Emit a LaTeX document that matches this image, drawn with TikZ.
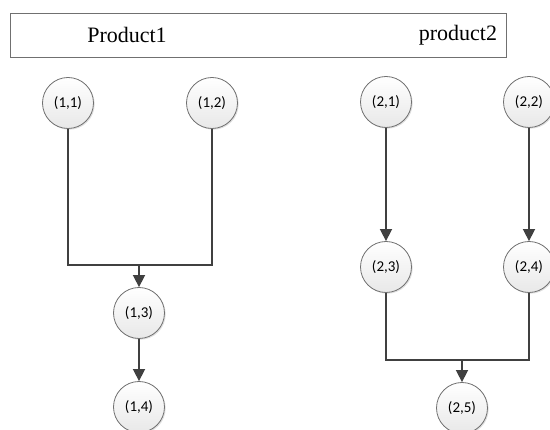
\documentclass[tikz,border=0pt]{standalone}
\usepackage{fontspec}
\setmainfont{Liberation Serif}
\newfontfamily\labelfont{Carlito}
\usetikzlibrary{arrows.meta,shadows}
\definecolor{linegray}{HTML}{404040}
\definecolor{ringgray}{HTML}{707070}

\begin{document}
\begin{tikzpicture}[x=1pt,y=-1pt,
    state/.style={circle,draw=ringgray,line width=0.8pt,top color=white,bottom color=gray!18,
                  minimum size=51pt,inner sep=0pt,font=\labelfont\fontsize{15}{15}\selectfont,
                  drop shadow={shadow xshift=1.2pt,shadow yshift=-1.2pt,opacity=0.25}},
    link/.style={draw=linegray,line width=1.6pt},
    flow/.style={link,-{Triangle[width=12pt,length=12pt]}},
    headtext/.style={font=\fontsize{22}{22}\selectfont}]
  \useasboundingbox (0,0) rectangle (550,430);

  \node[draw=ringgray,line width=0.8pt,minimum width=496pt,minimum height=44pt,inner sep=0pt] (hdr) at (258,35) {};
  \node[headtext] (p1) at (127,35) {Product1};
  \node[headtext] (p2) at (458,35) {product2};

  \node[state] (n11) at ( 68,103) {(1,1)};
  \node[state] (n12) at (212,103) {(1,2)};
  \node[state] (n13) at (139,313) {(1,3)};
  \node[state] (n14) at (139,407) {(1,4)};
  \node[state] (n21) at (386,102) {(2,1)};
  \node[state] (n22) at (529,102) {(2,2)};
  \node[state] (n23) at (386,267) {(2,3)};
  \node[state] (n24) at (529,267) {(2,4)};
  \node[state] (n25) at (462,408) {(2,5)};

  \coordinate (j1) at (139,265);
  \coordinate (j2) at (462,360);

  \path[link] (n11) |- (j1);
  \path[link] (n12) |- (j1);
  \path[flow] (j1) -- (n13);
  \path[flow] (n13) -- (n14);

  \path[flow] (n21) -- (n23);
  \path[flow] (n22) -- (n24);
  \path[link] (n23) |- (j2);
  \path[link] (n24) |- (j2);
  \path[flow] (j2) -- (n25);
\end{tikzpicture}
\end{document}
